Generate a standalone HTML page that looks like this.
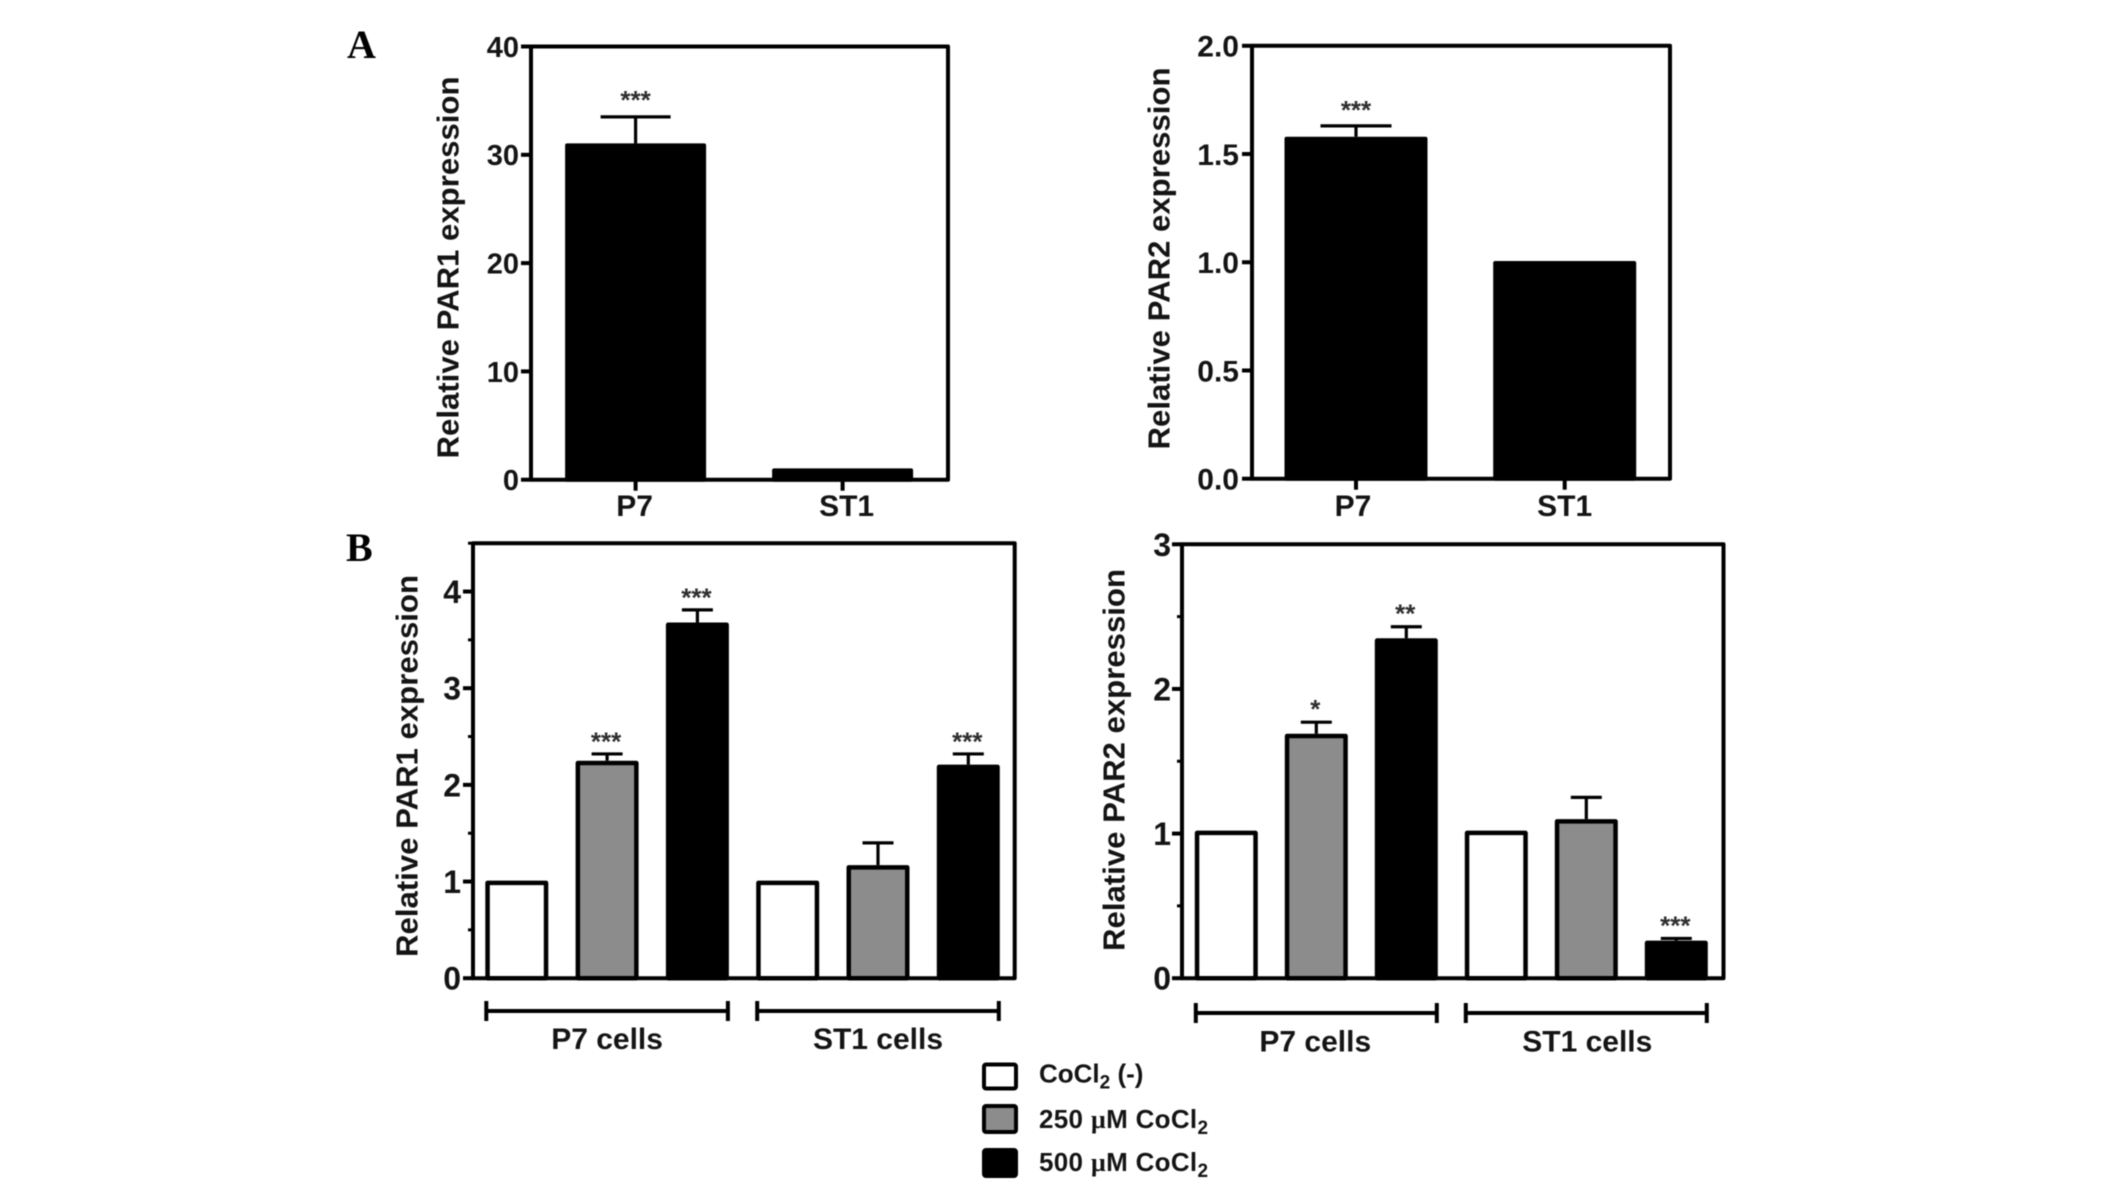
<!DOCTYPE html>
<html lang="en">
<head>
<meta charset="utf-8">
<title>Relative PAR1 and PAR2 expression</title>
<style>
  html, body { margin: 0; padding: 0; background: #fff; }
  #figure { display: block; width: 2126px; height: 1188px; filter: blur(0.5px); }
  text { font-family: "Liberation Sans", sans-serif; font-weight: bold; fill: #141414; }
  .panel-letter { font-family: "Liberation Serif", serif; font-size: 40px; fill: #000; }
  .legend-text { font-size: 26px; }
  .legend-wide { letter-spacing: 0.3px; }
  .mu { font-family: "Liberation Serif", serif; }
</style>
</head>
<body>
<svg id="figure" xmlns="http://www.w3.org/2000/svg" width="2126" height="1188" viewBox="0 0 2126 1188">
  <text class="panel-letter" x="347" y="58">A</text>
  <text class="panel-letter" x="346" y="561">B</text>
  <g id="charts"></g>
  <g>
    <g>
      <rect x="984" y="1064.5" width="32" height="24" rx="2" fill="#fff" stroke="#000" stroke-width="4"/>
      <text class="legend-text" x="1039" y="1082.5">CoCl<tspan font-size="19" dy="6">2</tspan><tspan dy="-6"> (-)</tspan></text>
    </g>
    <g>
      <rect x="984" y="1106" width="32" height="26" rx="2" fill="#8c8c8c" stroke="#000" stroke-width="4"/>
      <text class="legend-text legend-wide" x="1039" y="1128">250 <tspan class="mu">µ</tspan>M CoCl<tspan font-size="19" dy="6">2</tspan></text>
    </g>
    <g>
      <rect x="984" y="1150" width="32" height="26" rx="2" fill="#000" stroke="#000" stroke-width="4"/>
      <text class="legend-text legend-wide" x="1039" y="1171">500 <tspan class="mu">µ</tspan>M CoCl<tspan font-size="19" dy="6">2</tspan></text>
    </g>
  </g>
</svg>
<script>
// ---- Chart data ----
const a1Categories = ['P7', 'ST1'];
const a1Values = [31.05, 1.05];
const a1ErrorTops = [33.5, null];
const a1Stars = ['***', ''];
const a1Ticks = [0, 10, 20, 30, 40];
const a1TickLabels = ['0', '10', '20', '30', '40'];

const a2Categories = ['P7', 'ST1'];
const a2Values = [1.58, 1.006];
const a2ErrorTops = [1.63, null];
const a2Stars = ['***', ''];
const a2Ticks = [0, 0.5, 1, 1.5, 2];
const a2TickLabels = ['0.0', '0.5', '1.0', '1.5', '2.0'];

const b1Values = [1.01, 2.25, 3.68, 1.01, 1.17, 2.21];
const b1ErrorTops = [null, 2.32, 3.81, null, 1.4, 2.32];
const b1Stars = ['', '***', '***', '', '', '***'];
const b1Ticks = [0, 1, 2, 3, 4];
const b1MinorTicks = [0.5, 1.5, 2.5, 3.5, 4.5];
const b1TickLabels = ['0', '1', '2', '3', '4'];

const b2Values = [1.02, 1.69, 2.35, 1.02, 1.1, 0.26];
const b2ErrorTops = [null, 1.77, 2.43, null, 1.25, 0.275];
const b2Stars = ['', '*', '**', '', '', '***'];
const b2Ticks = [0, 1, 2, 3];
const b2MinorTicks = [0.5, 1.5, 2.5];
const b2TickLabels = ['0', '1', '2', '3'];

const groupFills = ['#fff', '#8c8c8c', '#000', '#fff', '#8c8c8c', '#000'];
const groupLabels = ['P7 cells', 'ST1 cells'];

// ---- Drawing ----
const NS = 'http://www.w3.org/2000/svg';
const root = document.getElementById('charts');

function make(parent, tag, attrs, content) {
  const el = document.createElementNS(NS, tag);
  for (const k in attrs) el.setAttribute(k, attrs[k]);
  if (content !== undefined) el.textContent = content;
  parent.appendChild(el);
  return el;
}

function linearScale(dMin, dMax, rMin, rMax) {
  return function (v) { return rMin + (v - dMin) / (dMax - dMin) * (rMax - rMin); };
}

function drawPanel(p) {
  const g = make(root, 'g', {});
  
  
  const y = linearScale(0, p.yMax, p.bottom, p.top);
  const x = function (i) { return p.firstCenter + i * p.step; };

  // bars
  p.values.forEach(function (val, i) {
    const top = y(val) + p.barStroke / 2;
    const bar = make(g, 'rect', {
      x: x(i) - p.barWidth / 2, y: top,
      width: p.barWidth, height: Math.max(0, p.bottom - top),
      fill: p.fills ? p.fills[i] : '#000',
      stroke: '#000', 'stroke-width': p.barStroke, 'stroke-linejoin': 'round'
    });
    
    

    if (p.errorTops[i] !== null) {
      const ey = y(p.errorTops[i]);
      const stem = make(g, 'line', { x1: x(i), x2: x(i), y1: ey, y2: y(val), stroke: '#000', 'stroke-width': 3.2 });
      
      
      const cap = make(g, 'line', { x1: x(i) - p.capWidth / 2, x2: x(i) + p.capWidth / 2, y1: ey, y2: ey, stroke: '#000', 'stroke-width': 3.2 });
      
      
    }
    if (p.stars[i]) {
      const anchorVal = p.errorTops[i] !== null ? p.errorTops[i] : val;
      const star = make(g, 'text', {
        x: x(i) + (p.starDx || 0), y: y(anchorVal) - p.starGap,
        'text-anchor': 'middle', 'font-size': 26, style: 'fill:#2e2e2e'
      }, p.stars[i]);
      
      
    }
  });

  // frame
  const frame = make(g, 'rect', {
    x: p.left, y: p.top, width: p.right - p.left, height: p.bottom - p.top,
    fill: 'none', stroke: '#000', 'stroke-width': 4, 'stroke-linejoin': 'round'
  });
  
  

  // y ticks
  p.ticks.forEach(function (t, i) {
    const tick = make(g, 'line', { x1: p.left - 10, x2: p.left, y1: y(t), y2: y(t), stroke: '#000', 'stroke-width': 4 });
    
    
    const label = make(g, 'text', {
      x: p.labelRight, y: y(t) + p.tickFont * 0.36,
      'text-anchor': 'end', 'font-size': p.tickFont
    }, p.tickLabels[i]);
    
    
  });
  (p.minorTicks || []).forEach(function (t, i) {
    const tick = make(g, 'line', { x1: p.left - 5, x2: p.left, y1: y(t), y2: y(t), stroke: '#000', 'stroke-width': 3 });
    
    
  });

  // y-axis title
  const title = make(g, 'text', {
    transform: 'translate(' + p.titleX + ',' + p.titleY + ') rotate(-90)',
    'text-anchor': 'middle', 'font-size': 31,
    textLength: 382, lengthAdjust: 'spacingAndGlyphs'
  }, p.title);
  
  

  // categorical x-axis (panel A)
  if (p.categories) {
    p.categories.forEach(function (c, i) {
      const tick = make(g, 'line', { x1: x(i), x2: x(i), y1: p.bottom, y2: p.bottom + 11, stroke: '#000', 'stroke-width': 4 });
      
      
      const label = make(g, 'text', {
        x: x(i) + p.catDx[i], y: 516, 'text-anchor': 'middle', 'font-size': 30
      }, c);
      
      
    });
  }

  // grouped x-axis (panel B)
  if (p.groups) {
    p.groups.forEach(function (name, gi) {
      const span = 3;
      const half = p.barWidth / 2 + p.barStroke / 2;
      const x1 = x(gi * span) - half + 1;
      const x2 = x(gi * span + span - 1) + half - 1;
      const yb = p.bracketY;
      const br = make(g, 'path', {
        d: 'M' + x1 + ' ' + (yb - 10) + 'V' + (yb + 10) + 'M' + x1 + ' ' + yb + 'H' + x2 + 'M' + x2 + ' ' + (yb - 10) + 'V' + (yb + 10),
        fill: 'none', stroke: '#000', 'stroke-width': 4
      });
      
      
      const label = make(g, 'text', {
        x: (x1 + x2) / 2 + p.groupDx[gi], y: p.groupLabelY,
        'text-anchor': 'middle', 'font-size': 30
      }, name);
      
      
    });
  }
}

drawPanel({
  id: 'a-par1', title: 'Relative PAR1 expression',
  values: a1Values, errorTops: a1ErrorTops, stars: a1Stars,
  ticks: a1Ticks, tickLabels: a1TickLabels, categories: a1Categories, catDx: [-1, 4],
  yMax: 40, left: 531, right: 948, top: 46.5, bottom: 479.7,
  firstCenter: 635.6, step: 207, barWidth: 137, barStroke: 4, capWidth: 70,
  starGap: 8, tickFont: 29, labelRight: 519, titleX: 458.5, titleY: 267.5
});
drawPanel({
  id: 'a-par2', title: 'Relative PAR2 expression',
  values: a2Values, errorTops: a2ErrorTops, stars: a2Stars,
  ticks: a2Ticks, tickLabels: a2TickLabels, categories: a2Categories, catDx: [-3, 0],
  yMax: 2, left: 1252, right: 1670, top: 45.8, bottom: 478.7,
  firstCenter: 1356, step: 208.7, barWidth: 139, barStroke: 4, capWidth: 71,
  starGap: 7, tickFont: 30, labelRight: 1239, titleX: 1169.7, titleY: 258.5
});
drawPanel({
  id: 'b-par1', title: 'Relative PAR1 expression',
  values: b1Values, errorTops: b1ErrorTops, stars: b1Stars, fills: groupFills,
  ticks: b1Ticks, minorTicks: b1MinorTicks, tickLabels: b1TickLabels, groups: groupLabels,
  yMax: 4.5, left: 473, right: 1014.7, top: 543.2, bottom: 978.2,
  firstCenter: 516.8, step: 90.3, barWidth: 58.5, barStroke: 4.5, capWidth: 31,
  starGap: 3.5, starDx: -1, tickFont: 32, labelRight: 461, titleX: 417.7, titleY: 766,
  bracketY: 1011, groupLabelY: 1049, groupDx: [0, 0]
});
drawPanel({
  id: 'b-par2', title: 'Relative PAR2 expression',
  values: b2Values, errorTops: b2ErrorTops, stars: b2Stars, fills: groupFills,
  ticks: b2Ticks, minorTicks: b2MinorTicks, tickLabels: b2TickLabels, groups: groupLabels,
  yMax: 3, left: 1182, right: 1723.5, top: 544.3, bottom: 978.2,
  firstCenter: 1226.3, step: 90, barWidth: 58.5, barStroke: 4.5, capWidth: 31,
  starGap: 4, starDx: -1, tickFont: 32, labelRight: 1171, titleX: 1124.5, titleY: 760,
  bracketY: 1013, groupLabelY: 1051.5, groupDx: [-1, 1]
});
</script>
</body>
</html>
